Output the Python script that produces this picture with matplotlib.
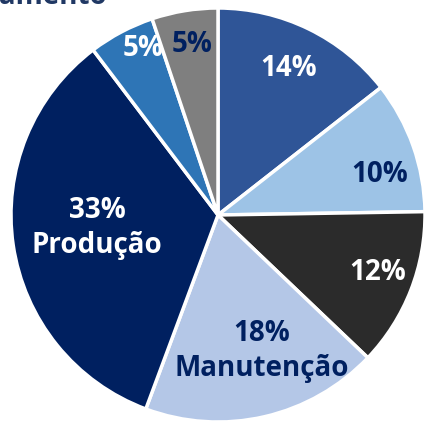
import numpy as np
import matplotlib
matplotlib.use("Agg")
import matplotlib.pyplot as plt

# slices clockwise from the top
shares = [14, 10, 12, 18, 33, 5, 5]
names = ["", "", "", "Manutenção", "Produção", "", ""]
colors = ["#2F5597", "#9DC3E6", "#2B2B2B", "#B4C7E7", "#002060", "#2E75B6", "#7F7F7F"]
text_colors = ["white", "#002060", "white", "#002060", "white", "white", "#002060"]

# label offsets from the centre, in pixels (x right, y up)
label_off = [(71, 147), (162, 40), (160, -58), (44, -136), (-121, -13), (-75, 167), (-26, 170)]

plt.rcParams['font.family'] = ['Open Sans', 'DejaVu Sans']

fig = plt.figure(figsize=(4.24, 4.24), dpi=100)
ax = fig.add_axes([0, 0, 1, 1])

cx, cy, R = 218, 424 - 215, 207
wedges, _ = ax.pie(shares, colors=colors, startangle=90, counterclock=False,
                   center=(cx, cy), radius=R, frame=True,
                   wedgeprops=dict(edgecolor="white", linewidth=2.5))

for v, n, tc, (dx, dy) in zip(shares, names, text_colors, label_off):
    txt = f"{v}%" if not n else f"{v}%\n{n}"
    ax.text(cx + dx, cy + dy, txt, ha="center", va="center", color=tc,
            fontsize=20, fontweight="bold", linespacing=1.3)

# cut-off title at the top-left
ax.text(107, 420.5, "Treinamento", ha="right", va="baseline", color="#203864",
        fontsize=20, fontweight="bold")

ax.set_xlim(0, 424)
ax.set_ylim(0, 424)
ax.set_aspect("equal")
ax.axis("off")

fig.savefig("out.png", dpi=100)
